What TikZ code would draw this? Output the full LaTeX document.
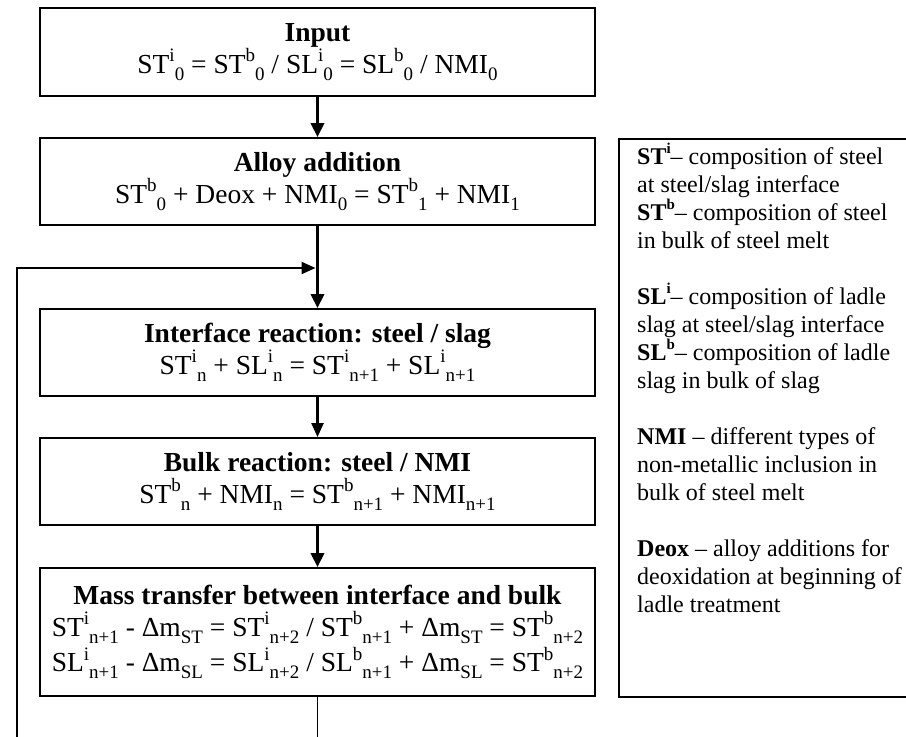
\documentclass[tikz,border=0pt]{standalone}
\usepackage{fontspec}
\setmainfont{Liberation Serif}
\usetikzlibrary{arrows.meta}
\newcommand{\upi}[1]{\raisebox{0.42em}{\fontsize{19}{19}\selectfont #1}}
\newcommand{\dni}[1]{\raisebox{-0.27em}{\fontsize{19}{19}\selectfont #1}}
\newcommand{\lupi}[1]{\raisebox{0.45em}{\fontsize{15}{15}\selectfont #1}}
\begin{document}
\begin{tikzpicture}[x=1pt,y=-1pt,
  box/.style={draw,line width=1.8pt,minimum width=555pt,inner sep=0pt,align=center,
    font=\fontsize{27.5}{32}\selectfont},
  bigarrow/.style={line width=3.8pt,-{Triangle[length=14pt,width=13pt]}},
  smallarrow/.style={line width=2.2pt,-{Triangle[length=14pt,width=12pt]}},
  plainline/.style={line width=1.8pt}]
\useasboundingbox (0,0) rectangle (906,737);

\node[box,minimum height=88pt] (input) at (317.5,52)
  {\textbf{Input}\\ ST\upi{i}\dni{0} = ST\upi{b}\dni{0} / SL\upi{i}\dni{0} = SL\upi{b}\dni{0} / NMI\dni{0}};
\node[box,minimum height=87pt] (alloy) at (317.5,181.5)
  {\textbf{Alloy addition}\\ ST\upi{b}\dni{0} + Deox + NMI\dni{0} = ST\upi{b}\dni{1} + NMI\dni{1}};
\node[box,minimum height=87pt] (iface) at (317.5,352.5)
  {\textbf{Interface reaction: steel / slag}\\ ST\upi{i}\dni{n} + SL\upi{i}\dni{n} = ST\upi{i}\dni{n+1} + SL\upi{i}\dni{n+1}};
\node[box,minimum height=87pt] (bulk) at (317.5,481.5)
  {\textbf{Bulk reaction: steel / NMI}\\ ST\upi{b}\dni{n} + NMI\dni{n} = ST\upi{b}\dni{n+1} + NMI\dni{n+1}};
\node[box,minimum height=128pt] (mass) at (317.5,632)
  {\textbf{Mass transfer between interface and bulk}\\
   ST\upi{i}\dni{n+1} - Δm\dni{ST} = ST\upi{i}\dni{n+2} / ST\upi{b}\dni{n+1} + Δm\dni{ST} = ST\upi{b}\dni{n+2}\\[2pt]
   SL\upi{i}\dni{n+1} - Δm\dni{SL} = SL\upi{i}\dni{n+2} / SL\upi{b}\dni{n+1} + Δm\dni{SL} = ST\upi{b}\dni{n+2}};

\coordinate (j) at (315.5,268);
\coordinate (fb) at (17,268);
\coordinate (bl) at (17,738);

\draw[bigarrow] (input) -- (alloy);
\draw[bigarrow] (alloy) -- (iface);
\draw[smallarrow] (iface) -- (bulk);
\draw[bigarrow] (bulk) -- (mass);
\draw[plainline] (mass.south) -- (mass.south |- bl);
\draw[smallarrow] (bl) -- (fb) -- (j);

\node[draw,line width=1.8pt,anchor=north west,minimum width=292pt,minimum height=558pt,inner sep=0pt] (legend) at (618,138) {};
\node[anchor=north west,inner sep=0pt,align=left,font=\fontsize{24}{28}\selectfont] (legtext) at (637,143)
  {\textbf{ST\lupi{i}}– composition of steel\\
   at steel/slag interface\\
   \textbf{ST\lupi{b}}– composition of steel\\
   in bulk of steel melt\\[28pt]
   \textbf{SL\lupi{i}}– composition of ladle\\
   slag at steel/slag interface\\
   \textbf{SL\lupi{b}}– composition of ladle\\
   slag in bulk of slag\\[28pt]
   \textbf{NMI} – different types of\\
   non-metallic inclusion in\\
   bulk of steel melt\\[28pt]
   \textbf{Deox} – alloy additions for\\
   deoxidation at beginning of\\
   ladle treatment};
\end{tikzpicture}
\end{document}
